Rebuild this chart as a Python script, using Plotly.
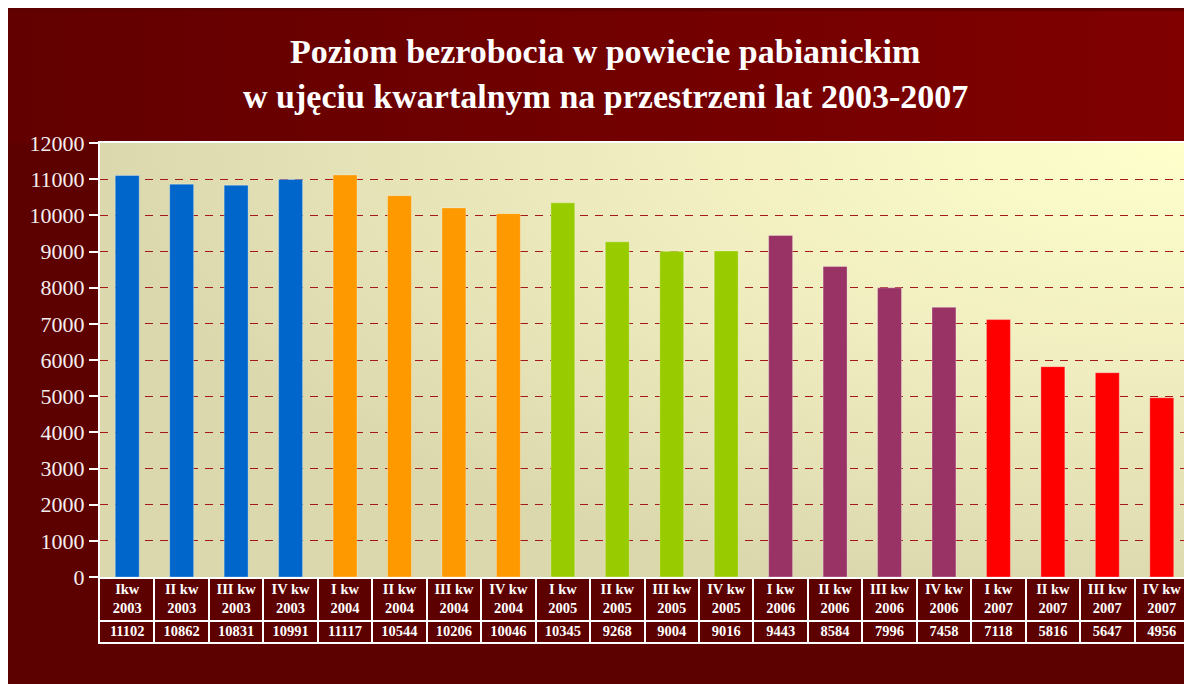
import plotly.graph_objects as go

# ---- data ----
quarters = ["Ikw", "II kw", "III kw", "IV kw",
            "I kw", "II kw", "III kw", "IV kw",
            "I kw", "II kw", "III kw", "IV kw",
            "I kw", "II kw", "III kw", "IV kw",
            "I kw", "II kw", "III kw", "IV kw"]
years = ["2003"] * 4 + ["2004"] * 4 + ["2005"] * 4 + ["2006"] * 4 + ["2007"] * 4
values = [11102, 10862, 10831, 10991,
          11117, 10544, 10206, 10046,
          10345, 9268, 9004, 9016,
          9443, 8584, 7996, 7458,
          7118, 5816, 5647, 4956]
year_colors = {"2003": "#0066CC", "2004": "#FF9900", "2005": "#99CC00",
               "2006": "#993366", "2007": "#FF0000"}
title_lines = ["Poziom bezrobocia w powiecie pabianickim",
               "w ujęciu kwartalnym na przestrzeni lat 2003-2007"]

# page geometry: the figure sits at page offset (8, 8)
W, H = 1184, 676
OX, OY = 8, 8
px = lambda v: (v - OX) / W
py = lambda v: (H - (v - OY)) / H

plot_x = [px(100), px(1189)]
plot_y = [py(577), py(143)]
head_y = [py(620), py(579)]
vals_y = [py(642), py(622)]

categories = [f"{q} {y}" for q, y in zip(quarters, years)]
bar_colors = [year_colors[y] for y in years]
header_text = [f"{q}<br>{y}" for q, y in zip(quarters, years)]
value_text = [str(v) for v in values]

BG = "#5D0000"
fig = go.Figure()

# background (dark red frame) on subplot xy
bg_top = py(11)
band = py(143) / bg_top
fig.add_trace(go.Scatter(x=[0, 1, 1, 0, 0], y=[0, 0, 1, 1, 0], fill="toself",
                         fillcolor=BG, mode="none", hoverinfo="skip",
                         showlegend=False, xaxis="x", yaxis="y"))
fig.add_trace(go.Scatter(x=[0, 1, 1, 0, 0], y=[band, band, 1, 1, band],
                         fill="toself", mode="none", hoverinfo="skip", showlegend=False,
                         fillgradient=dict(type="horizontal",
                                           colorscale=[[0, "#620000"], [1, "#800000"]]),
                         xaxis="x", yaxis="y"))

# plot-area gradient on subplot x2y2
fig.add_trace(go.Scatter(x=[0, 2, 2, 0, 0], y=[-0.05, -0.05, 2.05, 2.05, -0.05],
                         fill="toself", mode="none", hoverinfo="skip", showlegend=False,
                         fillgradient=dict(type="radial",
                                           colorscale=[[0, "#FFFFCC"], [0.5, "#F0EEC0"],
                                                       [1, "#DBD8AE"]]),
                         xaxis="x2", yaxis="y2"))

# bars on x3y3
fig.add_trace(go.Bar(x=categories, y=values,
                     marker=dict(color=bar_colors,
                                 line=dict(color="rgba(255,255,255,0.3)", width=1)),
                     width=0.44, showlegend=False, hoverinfo="x+y",
                     xaxis="x3", yaxis="y3"))

# data table: header row (x4y4) and value row (x5y5)
cell_font = dict(family="Liberation Serif", size=14.5, color="white", weight="bold")
fig.add_trace(go.Scatter(x=categories, y=[0.5] * len(categories), mode="text",
                         text=header_text, textposition="middle center",
                         textfont=cell_font, hoverinfo="skip", showlegend=False,
                         cliponaxis=False, xaxis="x4", yaxis="y4"))
fig.add_trace(go.Scatter(x=categories, y=[0.5] * len(categories), mode="text",
                         text=value_text, textposition="middle center",
                         textfont=cell_font, hoverinfo="skip", showlegend=False,
                         cliponaxis=False, xaxis="x5", yaxis="y5"))

hidden = dict(visible=False, range=[0, 1], fixedrange=True)
cell_x = dict(domain=plot_x, type="category", categoryorder="array",
              categoryarray=categories, range=[-0.5, len(categories) - 0.5],
              showticklabels=False, ticks="", tickson="boundaries",
              showgrid=True, gridcolor="white", gridwidth=2,
              showline=True, linecolor="white", linewidth=2, mirror=True,
              zeroline=False, fixedrange=True)
cell_y = dict(range=[0, 1], showticklabels=False, ticks="", showgrid=False,
              showline=True, linecolor="white", linewidth=2, mirror=True,
              zeroline=False, fixedrange=True)

fig.update_layout(
    width=W, height=H,
    margin=dict(l=0, r=0, t=0, b=0, pad=0, autoexpand=False),
    paper_bgcolor=BG, plot_bgcolor="rgba(0,0,0,0)",
    xaxis=dict(domain=[0, 1], **hidden),
    yaxis=dict(domain=[0, bg_top], **hidden),
    xaxis2=dict(domain=plot_x, **hidden),
    yaxis2=dict(domain=plot_y, **hidden),
    xaxis3=dict(domain=plot_x, anchor="y3", showticklabels=False, ticks="",
                showgrid=False, showline=True, linecolor="white", linewidth=2,
                mirror=True, zeroline=False, automargin=False),
    yaxis3=dict(domain=plot_y, anchor="x3", range=[0, 12000], dtick=1000,
                tickformat="d", automargin=False,
                showgrid=True, gridcolor="#A31A18", gridwidth=1, griddash="8px,7px",
                zeroline=False, showline=True, linecolor="white", linewidth=2,
                mirror=True, ticks="outside", ticklen=9, tickwidth=2,
                tickcolor="white",
                tickfont=dict(family="Liberation Serif", size=22, color="#F4EEEE")),
    xaxis4=dict(anchor="y4", **cell_x),
    yaxis4=dict(domain=head_y, anchor="x4", **cell_y),
    xaxis5=dict(anchor="y5", **cell_x),
    yaxis5=dict(domain=vals_y, anchor="x5", **cell_y),
    bargap=0.56,
    showlegend=False,
)

for i, line in enumerate(title_lines):
    fig.add_annotation(text=line, x=px(605), y=py(51 + 46 * i),
                       xref="paper", yref="paper",
                       showarrow=False, xanchor="center", yanchor="middle",
                       font=dict(family="Liberation Serif", size=34, color="white",
                                 weight="bold"))

fig.write_html("out.html")
